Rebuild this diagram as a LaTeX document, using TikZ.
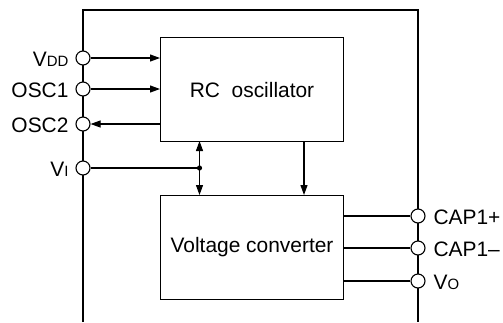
\documentclass[tikz,border=0pt]{standalone}
\usepackage{fontspec}
\setmainfont{Liberation Sans}
\usetikzlibrary{arrows.meta}
\begin{document}
\begin{tikzpicture}[x=1bp,y=-1bp,
  line width=1.1bp,
  every node/.style={font=\fontsize{21}{24}\selectfont},
  block/.style={draw, minimum width=183bp, minimum height=104bp, inner sep=0pt, anchor=north west},
  pin/.style={circle, draw, fill=white, minimum size=14bp, inner sep=0pt},
  arr/.style={-{Triangle[length=10bp,width=7bp]}},
  dbl/.style={{Triangle[length=10bp,width=7bp]}-{Triangle[length=10bp,width=7bp]}}]
\newcommand{\smallcap}[1]{{\fontsize{15}{17}\selectfont #1}}
\useasboundingbox (0,0) rectangle (503,322);
% frame
\draw (83,322) -- (83,10) -- (418,10) -- (418,322);
% blocks
\node[block] (rc) at (160,37) {};
\node at (rc.center) {RC\ \ oscillator};
\node[block] (vc) at (160,195) {};
\node at (vc.center) {Voltage converter};
% left pins
\node[pin] (vdd) at (83,58) {};
\node[pin] (osc1) at (83,89) {};
\node[pin] (osc2) at (83,124) {};
\node[pin] (vi) at (83,168) {};
\node[anchor=east, inner sep=0pt] at (69,59) {V\smallcap{DD}};
\node[anchor=east, inner sep=0pt] at (69,90) {OSC1};
\node[anchor=east, inner sep=0pt] at (69,125) {OSC2};
\node[anchor=east, inner sep=0pt] at (69,169) {V\smallcap{I}};
% right pins
\node[pin] (cp) at (418,216) {};
\node[pin] (cm) at (418,248) {};
\node[pin] (vo) at (418,281) {};
\node[anchor=west, inner sep=0pt] at (433,217) {CAP1+};
\node[anchor=west, inner sep=0pt] at (433,249) {CAP1\textendash};
\node[anchor=west, inner sep=0pt] at (433,282) {V\smallcap{O}};
% connectors
\draw[arr] (vdd.east) -- (vdd.east -| rc.west);
\draw[arr] (osc1.east) -- (osc1.east -| rc.west);
\draw[arr] (osc2.east -| rc.west) -- (osc2.east);
\coordinate (j) at (199.5,168);
\coordinate (jt) at (199.5,141);
\coordinate (jb) at (199.5,195);
\draw (vi.east) -- (j);
\draw[dbl] (jt) -- (jb);
\fill (j) circle (2.6bp);
\coordinate (a) at (304,141);
\draw[arr] (a) -- (a |- vc.north);
\draw (cp.west -| vc.east) -- (cp.west);
\draw (cm.west -| vc.east) -- (cm.west);
\draw (vo.west -| vc.east) -- (vo.west);
\end{tikzpicture}
\end{document}
